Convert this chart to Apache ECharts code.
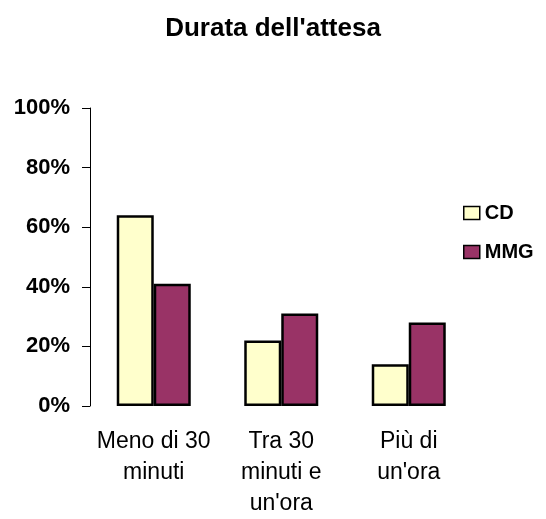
<!DOCTYPE html>
<html>
<head>
<meta charset="utf-8">
<script src="https://cdn.jsdelivr.net/npm/echarts@6/dist/echarts.min.js"></script>
<style>
  html, body { margin: 0; padding: 0; background: #ffffff; overflow: hidden; }
  #chart { width: 546px; height: 519px; }
</style>
</head>
<body>
<div id="chart"></div>
<script>
// Waiting time categories and share of respondents per group (%)
const categories = ["Meno di 30\nminuti", "Tra 30\nminuti e\nun'ora", "Più di\nun'ora"];
const seriesNames = ["CD", "MMG"];
const cdValues = [64, 22, 14];
const mmgValues = [41, 31, 28];
const yTicks = [0, 20, 40, 60, 80, 100];

const FONT = "'Liberation Sans', Arial, sans-serif";
const chart = echarts.init(document.getElementById('chart'), null, { renderer: 'canvas', width: 546, height: 519 });

chart.setOption({
  backgroundColor: '#ffffff',
  animation: false,
  title: {
    text: "Durata dell'attesa",
    left: 'center',
    top: 11,
    textStyle: { fontFamily: FONT, fontSize: 26, fontWeight: 'bold', color: '#000000' }
  },
  legend: {
    orient: 'vertical',
    left: 458,
    top: 198,
    padding: 5,
    itemWidth: 16,
    itemHeight: 13,
    itemGap: 19,
    icon: 'rect',
    data: seriesNames,
    textStyle: { fontFamily: FONT, fontSize: 20, fontWeight: 'bold', color: '#000000' },
    itemStyle: { borderColor: '#000000', borderWidth: 1.5 }
  },
  grid: { left: 90, top: 108, width: 382.5, height: 305, containLabel: false },
  xAxis: {
    type: 'category',
    data: categories,
    axisLine: { show: false },
    axisTick: { show: false },
    axisLabel: {
      fontFamily: FONT, fontSize: 23, color: '#000000',
      lineHeight: 31, margin: 20, interval: 0, align: 'center'
    }
  },
  yAxis: {
    type: 'value',
    min: yTicks[0],
    max: yTicks[yTicks.length - 1],
    interval: yTicks[1] - yTicks[0],
    splitLine: { show: false },
    axisLine: { show: true, lineStyle: { color: '#000000', width: 1 } },
    axisTick: { show: true, inside: false, length: 8, lineStyle: { color: '#000000', width: 1 } },
    axisLabel: {
      fontFamily: FONT, fontSize: 22, fontWeight: 'bold', color: '#000000', margin: 20,
      formatter: v => v + '%'
    }
  },
  series: [
    {
      name: seriesNames[0],
      type: 'bar',
      data: cdValues,
      barWidth: 37,
      barGap: '0%',
      itemStyle: { color: '#FFFFCC', borderColor: '#000000', borderWidth: 2.5 }
    },
    {
      name: seriesNames[1],
      type: 'bar',
      data: mmgValues,
      barWidth: 37,
      barGap: '0%',
      itemStyle: { color: '#993366', borderColor: '#000000', borderWidth: 2.5 }
    }
  ]
});
</script>
</body>
</html>
